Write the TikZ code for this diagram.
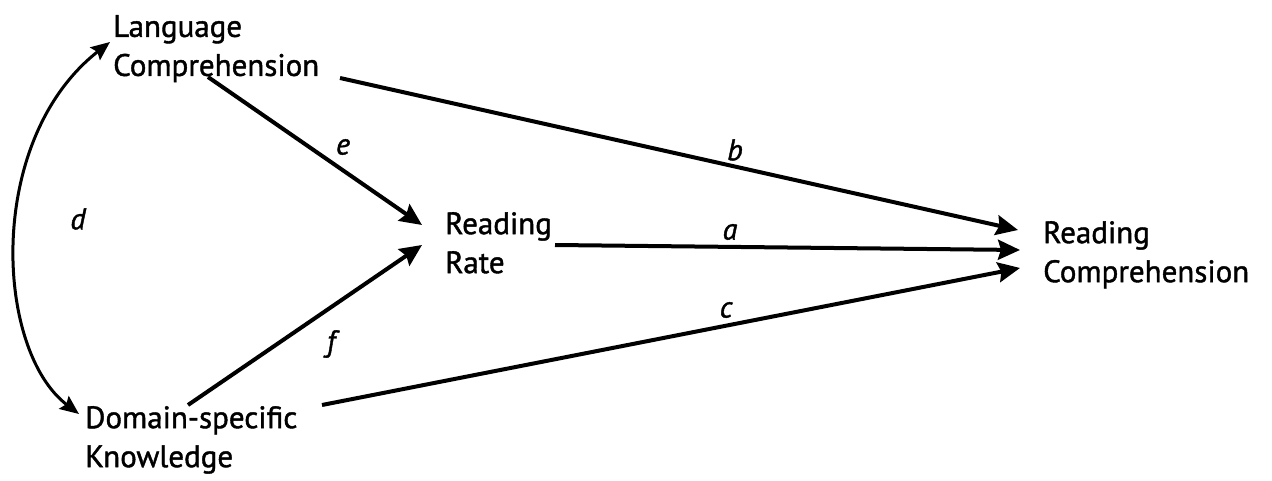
\documentclass[tikz,border=0pt]{standalone}
\usepackage{fontspec}
\setmainfont{PT Sans}
\newfontfamily\heavysans{PT Sans}[FakeBold=1.3]
\newfontfamily\heavyital{PT Sans Italic}[FakeBold=1.3]
\usetikzlibrary{arrows.meta}
\begin{document}
\begin{tikzpicture}[x=1pt,y=-1pt,
  lbl/.style={font=\fontsize{31}{39}\selectfont\heavysans, align=left, inner sep=0pt, anchor=north west},
  coef/.style={font=\fontsize{30}{36}\selectfont\heavyital, inner sep=0pt},
  effect/.style={line width=4pt, -{Stealth[length=22pt,width=20pt,inset=3pt]}},
  corr/.style={line width=3pt, {Stealth[length=19pt,width=16pt,inset=3pt]}-{Stealth[length=19pt,width=16pt,inset=3pt]}}]
\useasboundingbox (0,0) rectangle (1272,481);
\fill[white] (0,0) rectangle (1272,481);
% concepts
\node[lbl] (lc) at (113,15) {Language\\Comprehension};
\node[lbl] (rr) at (445,212) {Reading\\Rate};
\node[lbl] (rc) at (1043,221) {Reading\\Comprehension};
\node[lbl] (dk) at (85,406) {Domain-specific\\Knowledge};
% connector ends
\coordinate (lcb) at (340,78);
\coordinate (lce) at (208,77);
\coordinate (rra) at (555,245);
\coordinate (dkf) at (188,405);
\coordinate (dkc) at (322,405);
\coordinate (rrin1) at (422,225);
\coordinate (rrin2) at (422,245);
\coordinate (rcin1) at (1018,230);
\coordinate (rcin2) at (1020,250);
\coordinate (rcin3) at (1020,268);
\coordinate (lcd) at (110,42);
\coordinate (dkd) at (79,414);
% paths
\draw[effect] (lcb) -- (rcin1);
\draw[effect] (rra) -- (rcin2);
\draw[effect] (dkc) -- (rcin3);
\draw[effect] (lce) -- (rrin1);
\draw[effect] (dkf) -- (rrin2);
\draw[corr] (dkd) .. controls (-5,350) and (-15,140) .. (lcd);
% coefficients
\node[coef] (cd) at (78,219) {d};
\node[coef] (ce) at (343,147) {e};
\node[coef] (cb) at (735,150) {b};
\node[coef] (ca) at (730,232) {a};
\node[coef] (cc) at (726,310) {c};
\node[coef] (cf) at (331,344) {f};
\end{tikzpicture}
\end{document}
